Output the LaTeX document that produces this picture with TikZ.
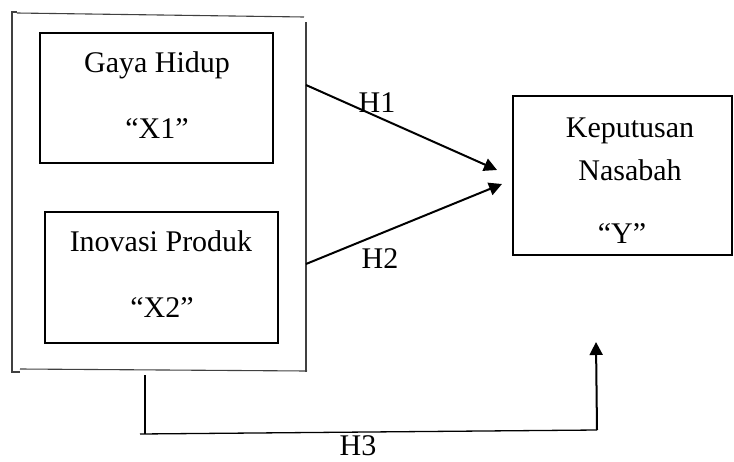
\documentclass[tikz,border=0pt]{standalone}
\usepackage{fontspec}
\setmainfont{Liberation Serif}
\usetikzlibrary{arrows.meta}
\begin{document}
\begin{tikzpicture}[x=1pt,y=-1pt,
  frame/.style={draw=black!75,line width=1.1pt},
  var/.style={draw=black,line width=2pt,inner sep=0pt},
  lbl/.style={font=\fontsize{30}{33}\selectfont,anchor=base,inner sep=0pt},
  arr/.style={line width=2pt,-{Triangle[length=13pt,width=13pt]}},
  ln/.style={line width=1.3pt}]
\useasboundingbox (0,0) rectangle (734,461);
% outer frame
\draw[frame] (17,12) -- (12,12) -- (12,372) -- (20,372);
\draw[frame] (17,13) -- (304,17);
\draw[frame] (306,22) -- (306,372);
\draw[frame] (20,369) -- (307,371);
% variable boxes
\node[var,minimum width=233pt,minimum height=130pt] (x1) at (156.5,98) {};
\node[var,minimum width=233pt,minimum height=131pt] (x2) at (161.5,277.5) {};
\node[var,minimum width=219pt,minimum height=159pt] (y) at (622.5,175.5) {};
% texts
\node[lbl] (t1a) at (157,72) {Gaya Hidup};
\node[lbl] (t1b) at (157,138) {“X1”};
\node[lbl] (t2a) at (161,251) {Inovasi Produk};
\node[lbl] (t2b) at (162,317) {“X2”};
\node[lbl] (tya) at (630,137) {Keputusan};
\node[lbl] (tyb) at (630,180) {Nasabah};
\node[lbl] (tyc) at (622,243) {“Y”};
% connectors
\coordinate (h1s) at (306,85);
\coordinate (h1e) at (497,170);
\coordinate (h2s) at (306,264);
\coordinate (h2e) at (502,184);
\draw[arr] (h1s) -- (h1e);
\draw[arr] (h2s) -- (h2e);
\node[lbl] (h1) at (377,112) {H1};
\node[lbl] (h2) at (380,268) {H2};
\coordinate (h3a) at (145,375);
\coordinate (h3b) at (145,434);
\coordinate (h3l) at (140,434);
\coordinate (h3c) at (597,430);
\coordinate (h3d) at (596,342);
\draw[ln] (h3a) -- (h3b);
\draw[ln] (h3l) -- (h3c);
\draw[arr] (h3c) -- (h3d);
\node[lbl] (h3) at (358,455) {H3};
\end{tikzpicture}
\end{document}
